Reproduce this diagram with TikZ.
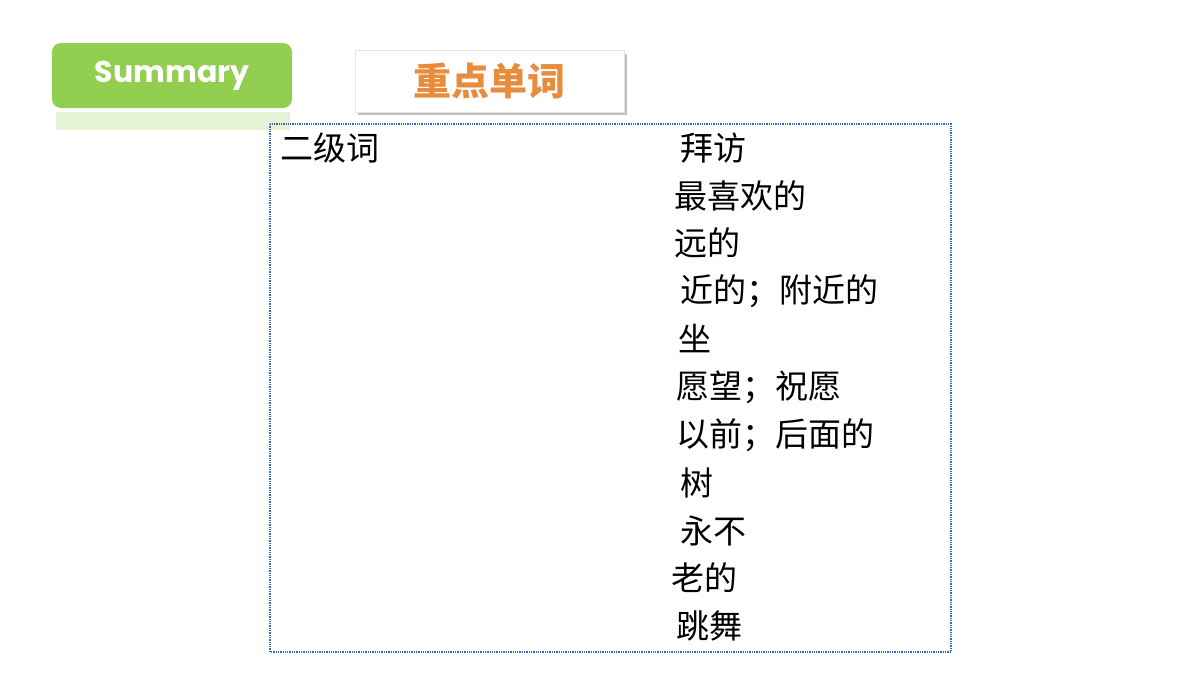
\documentclass[tikz,border=0pt]{standalone}
\usepackage{fontspec}
\setmainfont{Poppins}
\newfontfamily\cjk{Noto Sans CJK SC}
\definecolor{sgreen}{RGB}{146,206,80}
\definecolor{tor}{RGB}{232,140,62}
\definecolor{dblue}{RGB}{60,100,180}
\begin{document}
\begin{tikzpicture}[x=1pt,y=-1pt,
  item/.style={anchor=west,inner sep=0pt,font=\cjk\fontsize{33}{33}\selectfont}]
\useasboundingbox (0,0) rectangle (1200,675);
\fill[white] (0,0) rectangle (1200,675);
\fill[sgreen!25] (56,112) rectangle (290,130);
\node[fill=sgreen,rounded corners=9pt,minimum width=240pt,minimum height=65pt,text=white,font=\bfseries\fontsize{30}{30}\selectfont] (sum) at (172,75.5) {Summary};
\fill[black!25] (358,54) rectangle (627,115);
\node[fill=white,draw=black!10,minimum width=269pt,minimum height=62pt,text=tor,font=\cjk\bfseries\fontsize{38}{38}\selectfont] (ttl) at (489.5,81) {重点单词};
\draw[dblue,densely dotted,line width=1.3pt] (270,124) rectangle (951,652);
\node[item] (l) at (280,148) {二级词};
\node[item] (a1) at (680,148) {拜访};
\node[item] (a2) at (674,196) {最喜欢的};
\node[item] (a3) at (674,243) {远的};
\node[item] (a4) at (680,291) {近的；附近的};
\node[item] (a5) at (678,339) {坐};
\node[item] (a6) at (676,387) {愿望；祝愿};
\node[item] (a7) at (676,435) {以前；后面的};
\node[item] (a8) at (680,483) {树};
\node[item] (a9) at (680,531) {永不};
\node[item] (a10) at (671,578) {老的};
\node[item] (a11) at (676,626) {跳舞};
\end{tikzpicture}
\end{document}
